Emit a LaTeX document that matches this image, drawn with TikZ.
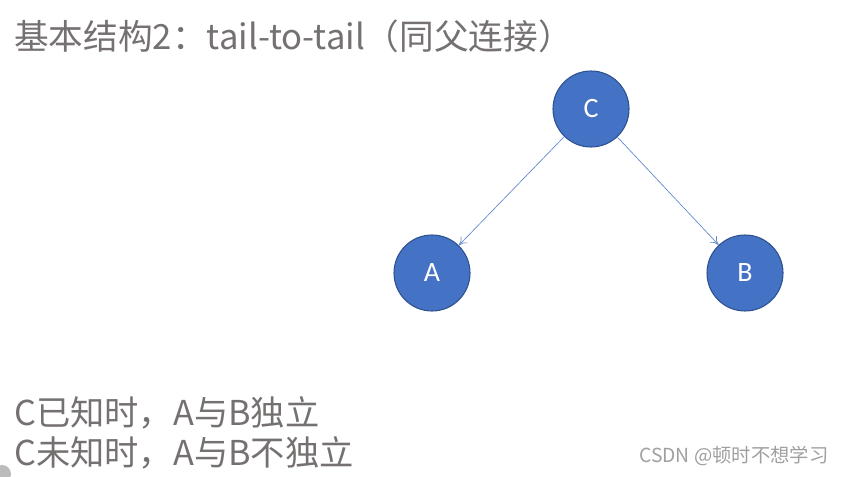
\documentclass[tikz,border=0pt]{standalone}
\usepackage{fontspec}
\newfontfamily\cjk{Noto Sans CJK SC}
\newfontfamily\latin{Carlito}
\usetikzlibrary{arrows.meta}
\definecolor{nodeblue}{RGB}{68,114,196}
\definecolor{nodeedge}{RGB}{47,82,143}
\definecolor{textgray}{RGB}{118,113,113}
\definecolor{markgray}{RGB}{160,160,160}
\tikzset{
  var/.style={circle, draw=nodeedge, fill=nodeblue, line width=0.8pt,
    minimum size=57pt, inner sep=0pt, text=white, font=\latin\fontsize{21}{21}\selectfont},
  edge/.style={draw=nodeblue!85, line width=0.5pt, -{To[length=6pt,width=7pt]}},
  note/.style={anchor=base west, inner sep=0pt, text=textgray, font=\cjk\fontsize{25.7}{25.7}\selectfont}
}
\begin{document}
\begin{tikzpicture}[x=0.75pt, y=-0.75pt]
\useasboundingbox[fill=white] (0,0) rectangle (842,477);

% title
\node[note, font=\cjk\fontsize{26}{26}\selectfont] (title) at (14,50) {基本结构2：tail-to-tail（同父连接）};

% graph
\node[var] (C) at (591,109) {C};
\node[var] (A) at (432,273) {A};
\node[var] (B) at (745,273) {B};
\draw[edge] (C) -- (A);
\draw[edge] (C) -- (B);

% conclusions
\node[note] (known) at (14,425) {C已知时，A与B独立};
\node[note] (unknown) at (14,465) {C未知时，A与B不独立};

% watermark
\node[anchor=base west, inner sep=0pt, text=markgray, font=\cjk\fontsize{14.5}{14.5}\selectfont] (mark) at (639,462) {CSDN @顿时不想学习};
\fill[markgray!70] (2,474) circle (9);
\end{tikzpicture}
\end{document}
